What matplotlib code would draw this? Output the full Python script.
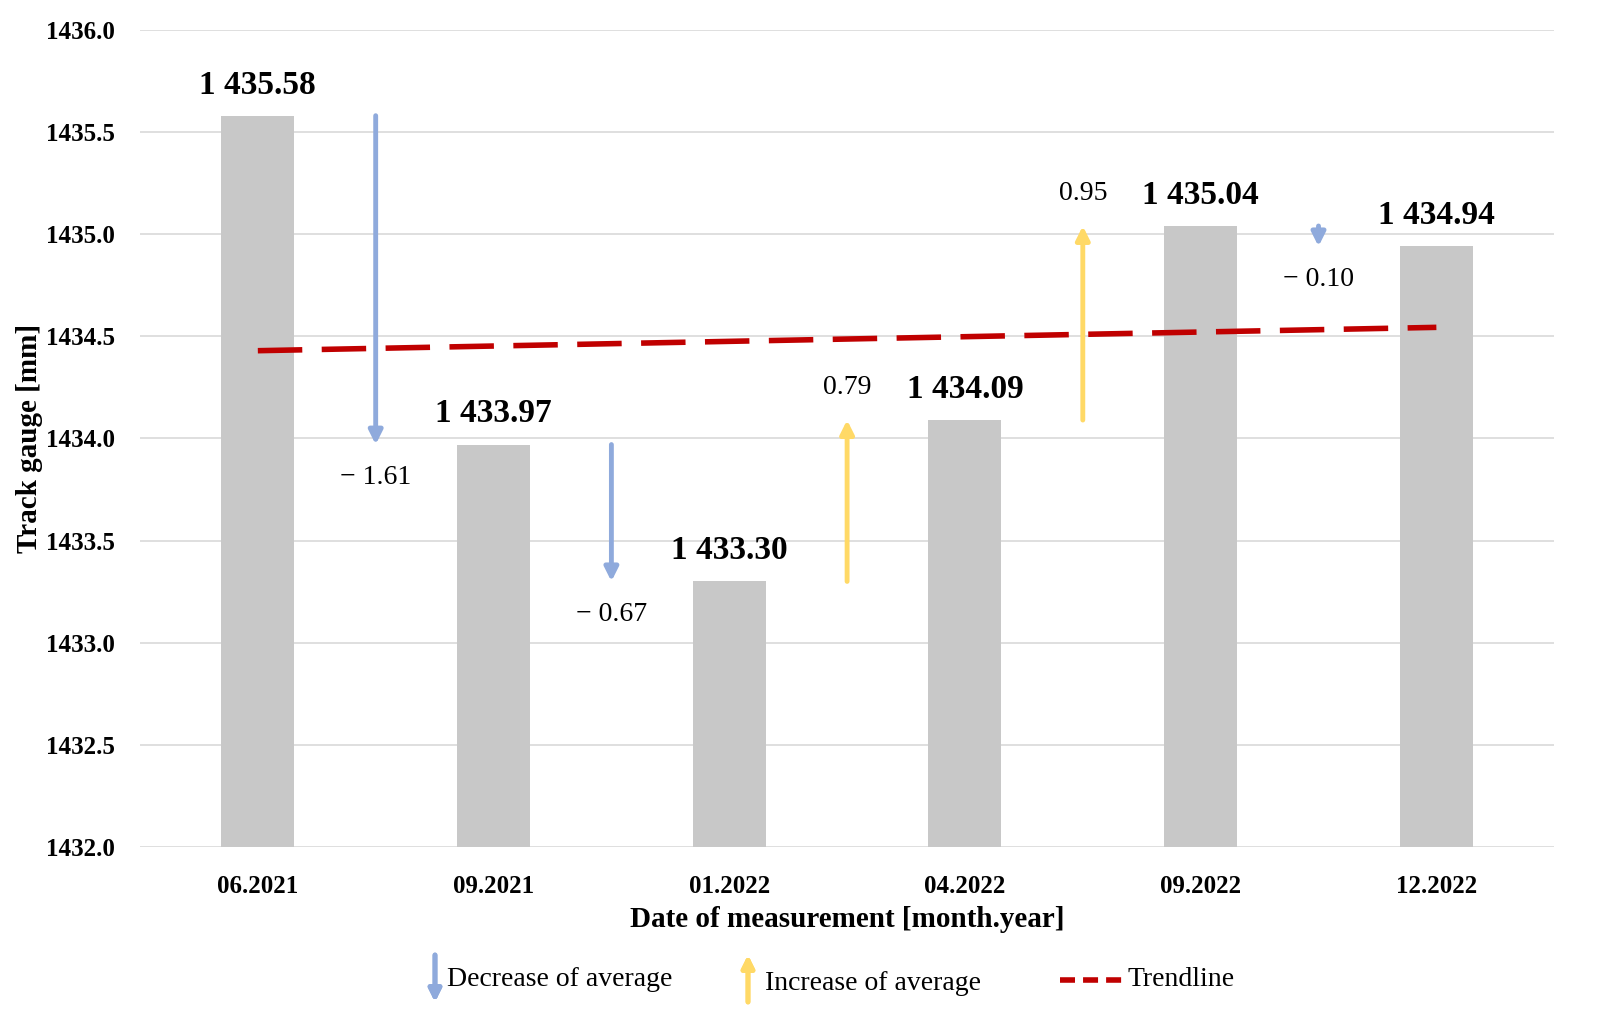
import numpy as np
import matplotlib.pyplot as plt

# data
dates = ['06.2021', '09.2021', '01.2022', '04.2022', '09.2022', '12.2022']
gauge = [1435.58, 1433.97, 1433.30, 1434.09, 1435.04, 1434.94]

plt.rcParams['font.family'] = ['Liberation Serif', 'DejaVu Serif']

bar_color = '#C8C8C8'
dec_color = '#8FAADC'
inc_color = '#FFD966'
trend_color = '#C00000'

fig = plt.figure(figsize=(15.98, 10.31), dpi=100)
ax = fig.add_axes([0.0876, 0.1785, 0.885, 0.7925])

x = np.arange(len(dates))
ax.bar(x, gauge, width=0.31, color=bar_color, zorder=2)
ax.set_ylim(1432.0, 1436.0)
ax.set_xlim(-0.5, 5.5)
ax.set_yticks(np.arange(1432.0, 1436.01, 0.5))
ax.set_yticklabels([f"{v:.1f}" for v in np.arange(1432.0, 1436.01, 0.5)],
                   fontsize=18, fontweight='bold')
ax.set_xticks(x)
ax.set_xticklabels(dates, fontsize=18, fontweight='bold')
ax.tick_params(axis='x', length=0, pad=20)
ax.tick_params(axis='y', length=0, pad=18)
ax.grid(axis='y', color='#D9D9D9', lw=1.2, zorder=0)
for s in ax.spines.values():
    s.set_visible(False)

ax.set_xlabel('Date of measurement [month.year]', fontsize=21, fontweight='bold', labelpad=6)
ax.set_ylabel('Track gauge [mm]', fontsize=21, fontweight='bold', labelpad=2)

# value labels
for xi, v in zip(x, gauge):
    ax.text(xi, v + 0.15, f"{v:,.2f}".replace(',', ' '), ha='center', va='center',
            fontsize=24, fontweight='bold', zorder=5)

# change arrows
for i in range(1, len(gauge)):
    d = gauge[i] - gauge[i - 1]
    xm = i - 0.5
    col = dec_color if d < 0 else inc_color
    ax.annotate('', xy=(xm, gauge[i]), xytext=(xm, gauge[i - 1]),
                arrowprops=dict(arrowstyle='-|>', color=col, lw=3.5,
                                mutation_scale=20, shrinkA=0, shrinkB=0), zorder=4)
    if d < 0:
        lab = f"\u2212 {abs(d):.2f}"
        ax.text(xm, gauge[i] - 0.16, lab, ha='center', va='center', fontsize=20, zorder=5)
    else:
        ax.text(xm, gauge[i] + 0.16, f"{d:.2f}", ha='center', va='center', fontsize=20, zorder=5)

# trendline
k, b = np.polyfit(x, gauge, 1)
ax.plot(x, k * x + b, color=trend_color, lw=4, dashes=(8, 3.5), zorder=3)

# legend
fig.add_artist(plt.annotate('', xy=(435 / 1598, 1 - 1002 / 1031), xytext=(435 / 1598, 1 - 955 / 1031),
                            xycoords='figure fraction',
                            arrowprops=dict(arrowstyle='-|>', color=dec_color, lw=3.5,
                                            mutation_scale=18, shrinkA=0, shrinkB=0)))
fig.text(447 / 1598, 1 - 980 / 1031, 'Decrease of average', fontsize=20, va='center')
fig.add_artist(plt.annotate('', xy=(748 / 1598, 1 - 955 / 1031), xytext=(748 / 1598, 1 - 1002 / 1031),
                            xycoords='figure fraction',
                            arrowprops=dict(arrowstyle='-|>', color=inc_color, lw=3.5,
                                            mutation_scale=18, shrinkA=0, shrinkB=0)))
fig.text(765 / 1598, 1 - 983 / 1031, 'Increase of average', fontsize=20, va='center')
fig.add_artist(plt.Line2D([1060 / 1598, 1122 / 1598], [1 - 980 / 1031, 1 - 980 / 1031],
                          transform=fig.transFigure, color=trend_color, lw=4, dashes=(2.7, 1.45)))
fig.text(1128 / 1598, 1 - 980 / 1031, 'Trendline', fontsize=20, va='center')

fig.savefig('out.png', dpi=100)
